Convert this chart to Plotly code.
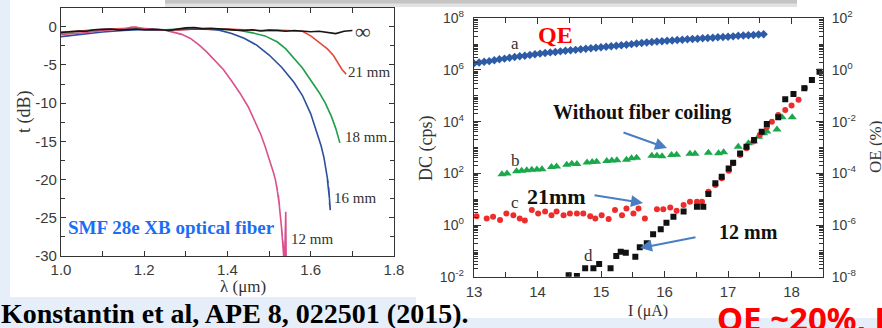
import plotly.graph_objects as go

W, H = 882, 328
def px(x): return x / W
def py(y): return 1 - y / H

# ---------------- Left panel: transmission vs wavelength ----------------
lam_inf = [1.00,1.02,1.04,1.06,1.08,1.10,1.12,1.14,1.16,1.18,1.20,1.22,1.24,1.26,1.28,1.30,1.32,1.34,1.36,1.38,
           1.40,1.42,1.44,1.46,1.48,1.50,1.52,1.54,1.56,1.58,1.60,1.62,1.64,1.66,1.68,1.70]
t_inf = [-0.75,-0.65,-0.55,-0.6,-0.4,-0.35,-0.3,-0.45,-0.35,-0.3,-0.4,-0.35,-0.4,-0.5,-0.3,-0.15,-0.1,-0.25,-0.2,-0.3,
         -0.35,-0.45,-0.5,-0.4,-0.55,-0.45,-0.5,-0.6,-0.5,-0.55,-0.65,-0.6,-0.75,-0.9,-0.6,-0.5]

lam_21 = [1.00,1.04,1.08,1.12,1.16,1.18,1.20,1.24,1.28,1.32,1.36,1.40,1.44,1.48,1.52,1.56,1.58,1.60,1.62,1.64,
          1.655,1.665,1.675,1.685]
t_21 = [-0.7,-0.6,-0.4,-0.3,-0.2,-0.05,-0.35,-0.4,-0.45,-0.3,-0.35,-0.3,-0.45,-0.5,-0.45,-0.5,-0.6,-1.2,-2.0,-2.9,
        -3.8,-4.8,-5.6,-6.2]

lam_18 = [1.00,1.05,1.10,1.15,1.20,1.25,1.30,1.35,1.40,1.43,1.46,1.49,1.52,1.54,1.56,1.58,1.60,1.62,1.635,1.65,1.66,1.67]
t_18 = [-0.9,-0.6,-0.4,-0.3,-0.35,-0.4,-0.3,-0.3,-0.35,-0.5,-0.8,-1.2,-2.0,-2.9,-4.1,-5.4,-7.0,-8.6,-10.0,-11.8,-13.3,-15.2]

lam_16 = [1.00,1.05,1.10,1.15,1.20,1.25,1.30,1.35,1.38,1.41,1.44,1.47,1.50,1.53,1.56,1.58,1.60,1.615,1.625,1.632,
          1.638,1.642,1.640,1.645,1.643,1.647,1.645]
t_16 = [-1.3,-1.0,-0.7,-0.5,-0.35,-0.4,-0.35,-0.3,-0.45,-0.9,-1.5,-2.4,-3.7,-5.3,-7.3,-9.0,-11.4,-13.8,-15.6,-17.2,
        -19.0,-20.5,-20.0,-22.5,-21.0,-24.0,-23.0]

lam_12 = [1.00,1.05,1.10,1.15,1.17,1.19,1.22,1.25,1.27,1.29,1.31,1.33,1.35,1.37,1.39,1.41,1.43,1.45,1.47,1.48,
          1.49,1.50,1.51,1.515,1.52,1.518,1.525,1.522,1.528,1.526,1.532,1.53,1.535,1.533,1.537,1.540,1.541]
t_12 = [-1.0,-0.8,-0.5,-0.3,-0.05,-0.2,-0.35,-0.45,-0.7,-1.0,-1.5,-2.3,-3.3,-4.4,-5.6,-7.1,-8.7,-10.5,-12.8,-14.1,
        -15.6,-17.2,-19.0,-20.0,-21.5,-20.8,-23.5,-22.0,-25.5,-24.0,-27.5,-26.5,-30.0,-28.0,-31.0,-24.2,-31.0]

left_x_ticks = [1.0, 1.2, 1.4, 1.6, 1.8]
left_x_labels = ["1.0", "1.2", "1.4", "1.6", "1.8"]
left_y_ticks = [0, -5, -10, -15, -20, -25, -30]
left_y_labels = ["0", "-5", "-10", "-15", "-20", "-25", "-30"]

# ---------------- Right panel: dark counts vs bias current ----------------
I_a = [13.00,13.08,13.16,13.24,13.32,13.40,13.48,13.56,13.64,13.72,13.80,13.88,13.96,14.04,14.12,14.20,14.28,14.36,
       14.44,14.52,14.60,14.68,14.76,14.84,14.92,15.00,15.08,15.16,15.24,15.32,15.40,15.48,15.56,15.64,15.72,15.80,
       15.88,15.96,16.04,16.12,16.20,16.28,16.36,16.44,16.52,16.60,16.68,16.76,16.84,16.92,17.00,17.08,17.16,17.24,
       17.32,17.40,17.48,17.56]
DC_a = [1.8e6,1.95e6,2.1e6,2.2e6,2.4e6,2.6e6,2.75e6,2.95e6,3.2e6,3.4e6,3.55e6,3.8e6,4.1e6,4.3e6,4.5e6,4.8e6,5.0e6,
        5.25e6,5.5e6,5.75e6,6.0e6,6.3e6,6.6e6,6.9e6,7.2e6,7.6e6,7.9e6,8.3e6,8.7e6,9.1e6,9.5e6,1.0e7,1.05e7,1.1e7,
        1.15e7,1.2e7,1.26e7,1.29e7,1.35e7,1.38e7,1.45e7,1.48e7,1.55e7,1.58e7,1.62e7,1.7e7,1.74e7,1.78e7,1.86e7,
        1.9e7,1.95e7,2.0e7,2.1e7,2.14e7,2.19e7,2.24e7,2.34e7,2.4e7]

I_b = [13.44,13.52,13.67,13.75,13.83,13.91,13.99,14.07,14.22,14.30,14.46,14.54,14.62,14.78,14.86,14.93,15.09,15.17,
       15.25,15.40,15.48,15.56,15.80,15.88,15.96,16.11,16.19,16.40,16.48,16.69,16.85,16.93,17.16,17.32,17.40,17.48,
       17.56,17.61,17.77,17.85,18.01]
DC_b = [93,98,120,126,132,138,141,145,174,182,214,234,229,263,275,282,302,316,324,339,380,398,479,479,457,513,525,
        575,575,631,603,661,1070,1450,1700,2630,3550,4200,5010,14800,14800]

I_c = [13.04,13.20,13.30,13.41,13.51,13.62,13.72,13.80,13.91,14.01,14.12,14.22,14.30,14.41,14.51,14.62,14.72,14.83,
       14.91,15.01,15.12,15.22,15.33,15.40,15.51,15.59,15.69,15.88,15.98,16.09,16.19,16.30,16.40,16.51,16.59,16.69,
       16.80,16.90,17.01,17.08,17.19,17.29,17.40,17.50,17.61,17.69,17.79,17.90,18.00,18.11,18.21]
DC_c = [2.2,1.8,2.1,1.56,2.8,2.4,1.8,1.5,3.8,2.8,3.3,2.4,3.3,2.4,2.8,2.8,2.8,2.2,1.8,2.4,1.7,3.8,2.4,4.4,2.8,4.4,
        1.8,4.1,4.1,4.8,3.6,5.9,8.0,8.0,8.0,19.5,35,64,126,245,513,933,1700,3020,6030,1.0e4,1.8e4,2.8e4,4.2e4,
        7.1e4,2.0e5]

I_d = [14.49,14.62,14.75,14.88,14.97,15.15,15.24,15.31,15.39,15.54,15.61,15.72,15.82,15.94,16.03,16.14,16.30,16.51,
       16.61,16.69,16.80,16.90,17.01,17.08,17.19,17.29,17.41,17.53,17.61,17.79,17.90,18.03,18.20,18.32,18.44]
DC_d = [0.0115,0.0107,0.021,0.021,0.031,0.021,0.063,0.093,0.085,0.059,0.138,0.195,0.44,0.68,1.23,2.1,3.3,5.1,5.1,
        15.8,41,74,155,257,589,1070,1950,4070,8130,1.48e4,7.4e4,1.17e5,1.95e5,4.1e5,8.5e5]

dc_label_exps = [-2, 0, 2, 4, 6, 8]
oe_label_exps = [-8, -6, -4, -2, 0, 2]
I_ticks = [13, 14, 15, 16, 17, 18]

fig = go.Figure()

LW = 1.6
for xs, ys, col in [(lam_18, t_18, "#1f9e4a"), (lam_21, t_21, "#e8473c"), (lam_16, t_16, "#2c4e9e"),
                    (lam_12, t_12, "#d9508c"), (lam_inf, t_inf, "#151515")]:
    fig.add_trace(go.Scatter(x=xs, y=ys, mode="lines", line=dict(color=col, width=LW),
                             xaxis="x", yaxis="y", showlegend=False, hoverinfo="skip"))

fig.add_trace(go.Scatter(x=I_a, y=DC_a, mode="markers", xaxis="x2", yaxis="y2", showlegend=False,
                         marker=dict(symbol="diamond", size=6.5, color="#2d5ba6")))
fig.add_trace(go.Scatter(x=I_b, y=DC_b, mode="markers", xaxis="x2", yaxis="y2", showlegend=False,
                         marker=dict(symbol="triangle-up", size=8, color="#1ba84c")))
fig.add_trace(go.Scatter(x=I_c, y=DC_c, mode="markers", xaxis="x2", yaxis="y2", showlegend=False,
                         marker=dict(symbol="circle", size=6, color="#ee2c2c")))
fig.add_trace(go.Scatter(x=I_d, y=DC_d, mode="markers", xaxis="x2", yaxis="y2", showlegend=False,
                         marker=dict(symbol="square", size=6, color="#111111")))
# invisible trace so the right-hand OE axis is drawn
fig.add_trace(go.Scatter(x=[13], y=[1e-8], mode="markers", xaxis="x2", yaxis="y3", showlegend=False,
                         marker=dict(size=1, opacity=0), hoverinfo="skip"))

TICKFONT = dict(family="Liberation Sans, Arial, sans-serif", size=15, color="#3a3a3a")
AXC = "#333333"

def sup(e):
    return "10<sup>%d</sup>" % e

# minor log ticks: 2..9 within each decade plus the unlabelled odd decades
minor_dc = [m * 10.0 ** k for k in range(-2, 8) for m in range(2, 10)] + [10.0 ** k for k in (-1, 1, 3, 5, 7)]

fig.update_layout(
    width=W, height=H, margin=dict(l=0, r=0, t=0, b=0, pad=0), autosize=False,
    paper_bgcolor="#e6eff9", plot_bgcolor="white", showlegend=False,
    xaxis=dict(domain=[px(61), px(394)], range=[1.0, 1.8], anchor="y", automargin=False,
               tickvals=left_x_ticks, ticktext=left_x_labels, ticks="inside", ticklen=5,
               showline=True, linecolor=AXC, linewidth=1.3, mirror="ticks", tickcolor=AXC,
               showgrid=False, zeroline=False, tickfont=TICKFONT,
               minor=dict(dtick=0.1, tick0=1.0, ticks="inside", ticklen=5, tickcolor=AXC, showgrid=False)),
    yaxis=dict(domain=[py(256), py(8)], range=[-30, 2.45], anchor="x", automargin=False,
               tickvals=left_y_ticks, ticktext=left_y_labels, ticks="inside", ticklen=5,
               showline=True, linecolor=AXC, linewidth=1.3, mirror="ticks", tickcolor=AXC,
               showgrid=False, zeroline=False, tickfont=TICKFONT,
               minor=dict(dtick=2.5, tick0=0, ticks="inside", ticklen=4, tickcolor=AXC, showgrid=False)),
    xaxis2=dict(domain=[px(474), px(822.7)], range=[13, 18.49], anchor="y2", automargin=False,
                tickvals=I_ticks, ticktext=[str(v) for v in I_ticks], ticks="inside", ticklen=6,
                showline=True, linecolor=AXC, linewidth=1.3, mirror="ticks", tickcolor=AXC,
                showgrid=False, zeroline=False, tickfont=TICKFONT, ticklabelstandoff=1,
                minor=dict(dtick=0.5, tick0=13, ticks="inside", ticklen=5, tickcolor=AXC, showgrid=False)),
    yaxis2=dict(domain=[py(276.7), py(18.3)], type="log", range=[-2, 8], anchor="x2", automargin=False,
                tickvals=[10.0 ** e for e in dc_label_exps],
                ticktext=[sup(e) for e in dc_label_exps],
                ticks="inside", ticklen=7, showline=True, linecolor=AXC, linewidth=1.3, mirror="ticks",
                tickcolor=AXC, showgrid=False, zeroline=False, tickfont=dict(TICKFONT, size=14),
                ticklabelstandoff=6,
                minor=dict(tickvals=minor_dc, ticks="inside", ticklen=4, tickcolor=AXC, showgrid=False)),
    yaxis3=dict(type="log", range=[-8, 2], overlaying="y2", side="right", anchor="x2", automargin=False,
                tickvals=[10.0 ** e for e in oe_label_exps],
                ticktext=[sup(e) for e in oe_label_exps],
                ticks="", showline=False, showgrid=False, zeroline=False,
                tickfont=dict(TICKFONT, size=14), ticklabelstandoff=8),
)

# background cards and top bar
fig.add_shape(type="rect", xref="paper", yref="paper", x0=px(10), x1=px(882), y0=py(297), y1=py(0),
              fillcolor="white", line=dict(width=0), layer="below")
fig.add_shape(type="rect", xref="paper", yref="paper", x0=px(416), x1=px(882), y0=py(318), y1=py(296),
              fillcolor="white", line=dict(width=0), layer="below")
fig.add_shape(type="rect", xref="paper", yref="paper", x0=px(165), x1=px(797), y0=py(7), y1=py(0),
              fillcolor="#e2e2e2", line=dict(width=0), layer="below")
fig.add_shape(type="rect", xref="paper", yref="paper", x0=px(165), x1=px(797), y0=py(3.5), y1=py(0),
              fillcolor="#c4c4c4", line=dict(width=0), layer="below")

SERIF = "Liberation Serif"

def text(x, y, s, size, color="#333333", bold=False, family=SERIF, angle=0, xanchor="center"):
    if bold:
        s = "<b>%s</b>" % s
    fig.add_annotation(x=px(x), y=py(y), xref="paper", yref="paper", text=s, showarrow=False,
                       font=dict(family=family, size=size, color=color), textangle=angle,
                       xanchor=xanchor, yanchor="middle")

# left panel texts
text(24, 112, "t (dB)", 18, angle=-90)
text(243, 286, "λ (μm)", 17)
text(363, 32, "∞", 22)
text(346, 72, "21 mm", 15, xanchor="left")
text(343, 137, "18 mm", 15, xanchor="left")
text(332, 198, "16 mm", 15, xanchor="left")
text(289, 239, "12 mm", 15, xanchor="left")
text(171, 228, "SMF 28e XB optical fiber", 19, color="#1a6ef5", bold=True)

# right panel texts
text(426, 148, "DC (cps)", 18, angle=-90)
text(875, 147, "OE (%)", 17, angle=-90)
text(648, 311, "I (μA)", 16)
text(555, 35, "QE", 24, color="#ff0000", bold=True)
text(515, 43, "a", 17)
text(515, 160, "b", 17)
text(515, 202, "c", 17)
text(588, 255, "d", 17)
text(642, 113, "Without fiber coiling", 20, color="#111111", bold=True)
text(556, 196, "21mm", 22, color="#111111", bold=True)
text(748, 232, "12 mm", 20, color="#111111", bold=True)

# arrows
ARC = "#4a7ec3"
for hx, hy, tx, ty in [(667, 148, 622, 132), (643, 203, 593, 195), (640, 248, 697, 237)]:
    fig.add_annotation(x=px(hx), y=py(hy), xref="paper", yref="paper", ax=tx - hx, ay=ty - hy,
                       text="", showarrow=True, arrowhead=2, arrowsize=1.2, arrowwidth=2, arrowcolor=ARC)

# bottom texts
text(234, 313, "Konstantin et al, APE 8, 022501 (2015).", 28, color="#000000", bold=True)
fig.add_annotation(x=px(715), y=py(343), xref="paper", yref="paper", text="<b>OE ~20%, D</b>",
                   showarrow=False, xanchor="left", yanchor="bottom",
                   font=dict(family="Noto Sans", size=33, color="#ff0000"))

fig.write_html(
    "out.html",
    config={"displayModeBar": False},
    post_script="document.body.style.margin='0px';document.body.style.overflow='hidden';"
                "document.documentElement.style.overflow='hidden';",
)
